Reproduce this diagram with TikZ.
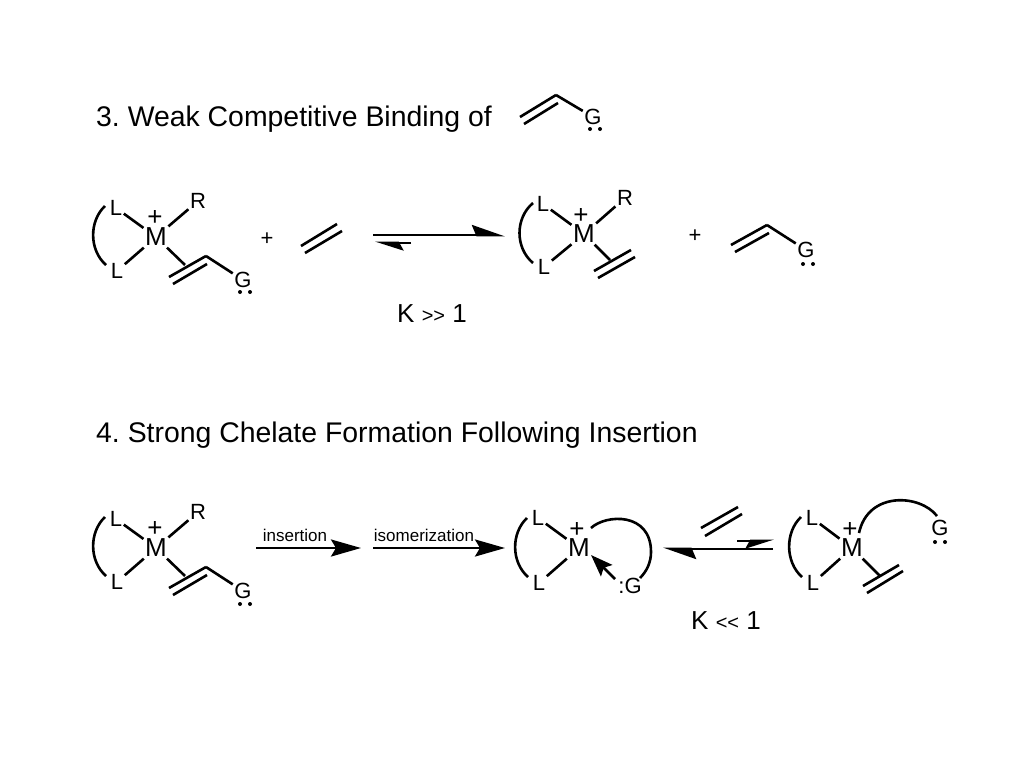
\documentclass[tikz,border=0pt]{standalone}
\usepackage{fontspec}
\setmainfont{Liberation Sans}
\usetikzlibrary{arrows.meta}
\frenchspacing

\begin{document}
\begin{tikzpicture}
[
	x=1pt,y=-1pt,
	title/.style={inner sep=0,anchor=west,font=\fontsize{28.4}{30}\selectfont},
	metal/.style={inner sep=1.5,font=\fontsize{26}{28}\selectfont},
	atom/.style={inner sep=1.5,font=\fontsize{22}{24}\selectfont},
	charge/.style={inner sep=0,font=\fontsize{26}{28}\selectfont},
	small/.style={inner sep=0,font=\fontsize{17}{18}\selectfont},
	note/.style={inner sep=0,font=\fontsize{26}{28}\selectfont},
	bond/.style={line width=2.6},
	dot/.style={circle,fill,inner sep=0,minimum size=4},
	fwd/.style={line width=2.8,-{Stealth[length=30,width=17,inset=5]}},
	upeq/.style={line width=2.8,-{Stealth[harpoon,length=29,width=20,inset=4]}},
	smalleq/.style={line width=2.8,-{Stealth[harpoon,length=24,width=15,inset=4]}},
	smallup/.style={line width=2.8,-{Stealth[harpoon,swap,length=24,width=15,inset=4]}}
]
\useasboundingbox (0,0) rectangle (1024,768);

\node[title] (t3) at (96,119) {3. Weak Competitive Binding of};
\node[title] (t4) at (96,435) {4. Strong Chelate Formation Following Insertion};

% olefin in the heading
\coordinate (h1) at (520,117);
\coordinate (h2) at (556,95);
\coordinate (h3) at (524,124);
\coordinate (h4) at (558,103);
\node[atom] (hg) at (593,117) {G};
\node[dot] (hd1) at (590,129) {};
\node[dot] (hd2) at (600,129) {};
\draw[bond] (h1) -- (h2);
\draw[bond] (h3) -- (h4);
\draw[bond] (h2) -- (hg);

% first complex
\node[metal] (m1) at (156,237) {M};
\node[atom] (la1) at (116,208) {L};
\node[atom] (lb1) at (117,271) {L};
\node[atom] (r1) at (198,201) {R};
\node[charge] (p1) at (155,218) {+};
\node[atom] (g1) at (243,280) {G};
\node[dot] (d1a) at (240,292) {};
\node[dot] (d1b) at (250,292) {};
\coordinate (a1) at (185,265);
\coordinate (b1) at (169,277);
\coordinate (c1) at (206,256);
\coordinate (e1) at (173,284);
\coordinate (f1) at (207,264);
\draw[bond] (m1) -- (la1);
\draw[bond] (m1) -- (lb1);
\draw[bond] (m1) -- (r1);
\draw[bond] (m1) -- (a1);
\draw[bond] (b1) -- (c1);
\draw[bond] (e1) -- (f1);
\draw[bond] (c1) -- (g1);
\draw[bond] (105,206) .. controls (89,221) and (89,250) .. (106,265);

\node[atom] (plus1) at (267,239) {+};
\coordinate (o1) at (301,246);
\coordinate (o2) at (337,224);
\coordinate (o3) at (305,253);
\coordinate (o4) at (342,231);
\draw[bond] (o1) -- (o2);
\draw[bond] (o3) -- (o4);

\coordinate (ea) at (373,235);
\coordinate (eb) at (505,235);
\coordinate (ec) at (411,243);
\coordinate (ed) at (375,243);
\draw[upeq] (ea) -- (eb);
\draw[smalleq] (ec) -- (ed);
\node[note] (k1) at (432,314) {K {\fontsize{20}{22}\selectfont >{}>} 1};

% second complex
\node[metal] (m2) at (584,234) {M};
\node[atom] (la2) at (543,204) {L};
\node[atom] (lb2) at (544,267) {L};
\node[atom] (r2) at (625,198) {R};
\node[charge] (p2) at (581,216) {+};
\coordinate (a2) at (610,260);
\coordinate (b2) at (594,271);
\coordinate (c2) at (631,250);
\coordinate (e2) at (598,278);
\coordinate (f2) at (635,257);
\draw[bond] (m2) -- (la2);
\draw[bond] (m2) -- (lb2);
\draw[bond] (m2) -- (r2);
\draw[bond] (m2) -- (a2);
\draw[bond] (b2) -- (c2);
\draw[bond] (e2) -- (f2);
\draw[bond] (533,203) .. controls (515,218) and (515,248) .. (533,263);

\node[atom] (plus2) at (695,236) {+};
\coordinate (v1) at (731,245);
\coordinate (v2) at (767,225);
\coordinate (v3) at (735,252);
\coordinate (v4) at (769,233);
\node[atom] (g2) at (806,250) {G};
\node[dot] (d2a) at (803,264) {};
\node[dot] (d2b) at (813,264) {};
\draw[bond] (v1) -- (v2);
\draw[bond] (v3) -- (v4);
\draw[bond] (v2) -- (g2);

% third complex
\node[metal] (m3) at (156,548) {M};
\node[atom] (la3) at (116,519) {L};
\node[atom] (lb3) at (117,582) {L};
\node[atom] (r3) at (198,512) {R};
\node[charge] (p3) at (155,529) {+};
\node[atom] (g3) at (243,591) {G};
\node[dot] (d3a) at (240,604) {};
\node[dot] (d3b) at (250,604) {};
\coordinate (a3) at (185,576);
\coordinate (b3) at (169,588);
\coordinate (c3) at (206,567);
\coordinate (e3) at (173,595);
\coordinate (f3) at (207,575);
\draw[bond] (m3) -- (la3);
\draw[bond] (m3) -- (lb3);
\draw[bond] (m3) -- (r3);
\draw[bond] (m3) -- (a3);
\draw[bond] (b3) -- (c3);
\draw[bond] (e3) -- (f3);
\draw[bond] (c3) -- (g3);
\draw[bond] (105,517) .. controls (89,532) and (89,561) .. (106,576);

\coordinate (ia) at (256,548);
\coordinate (ib) at (361,548);
\coordinate (ic) at (373,548);
\coordinate (id) at (505,548);
\draw[fwd] (ia) -- (ib);
\draw[fwd] (ic) -- (id);
\node[small] (ins) at (295,535) {insertion};
\node[small] (iso) at (424,535) {isomerization};

% chelate
\node[metal] (m4) at (579,548) {M};
\node[atom] (la4) at (538,518) {L};
\node[atom] (lb4) at (539,583) {L};
\node[charge] (p4) at (577,530) {+};
\node[atom] (g4) at (630,586) {:G};
\coordinate (n1) at (615,579);
\coordinate (n2) at (591,555);
\draw[bond] (m4) -- (la4);
\draw[bond] (m4) -- (lb4);
\draw[line width=2.8,-{Stealth[length=22,width=16,inset=4]}] (n1) -- (n2);
\draw[bond] (527,518) .. controls (511,533) and (511,562) .. (528,577);
\draw[bond] (591,528) .. controls (606,514) and (651,512) .. (651,552) .. controls (651,562) and (647,571) .. (640,578);

\coordinate (o5) at (701,528);
\coordinate (o6) at (738,507);
\coordinate (o7) at (705,536);
\coordinate (o8) at (742,514);
\draw[bond] (o5) -- (o6);
\draw[bond] (o7) -- (o8);
\coordinate (qa) at (773,549);
\coordinate (qb) at (663,549);
\coordinate (qc) at (737,541);
\coordinate (qd) at (774,541);
\draw[upeq] (qa) -- (qb);
\draw[smallup] (qc) -- (qd);
\node[note] (k2) at (726,621) {K {\fontsize{20}{22}\selectfont <{}<} 1};

% open chelate
\node[metal] (m5) at (852,548) {M};
\node[atom] (la5) at (812,518) {L};
\node[atom] (lb5) at (813,583) {L};
\node[charge] (p5) at (850,530) {+};
\node[atom] (g5) at (940,528) {G};
\node[dot] (d5a) at (935,542) {};
\node[dot] (d5b) at (945,542) {};
\coordinate (a5) at (880,576);
\coordinate (b5) at (863,586);
\coordinate (c5) at (899,565);
\coordinate (e5) at (867,593);
\coordinate (f5) at (903,571);
\draw[bond] (m5) -- (la5);
\draw[bond] (m5) -- (lb5);
\draw[bond] (m5) -- (a5);
\draw[bond] (b5) -- (c5);
\draw[bond] (e5) -- (f5);
\draw[bond] (801,517) .. controls (785,532) and (785,562) .. (802,577);
\draw[bond] (859,533) .. controls (868,491) and (920,494) .. (937,516);

\end{tikzpicture}
\end{document}
